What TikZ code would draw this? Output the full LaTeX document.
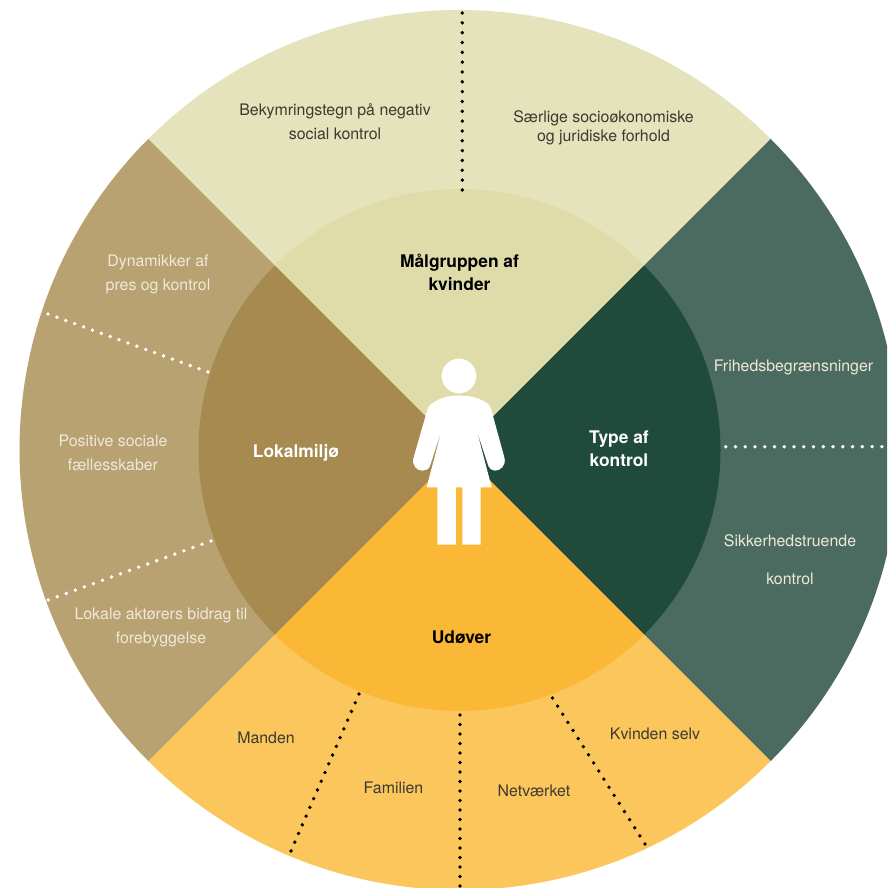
\documentclass[tikz,border=0pt]{standalone}
\usepackage{fontspec}
\setmainfont{TeX Gyre Heros}
\definecolor{topO}{HTML}{E4E3BB}
\definecolor{topI}{HTML}{DFDCAA}
\definecolor{rgtO}{HTML}{4B6B60}
\definecolor{rgtI}{HTML}{1F4A3C}
\definecolor{botO}{HTML}{FBC65C}
\definecolor{botI}{HTML}{FBB836}
\definecolor{lftO}{HTML}{B8A272}
\definecolor{lftI}{HTML}{A68A50}
\definecolor{darktxt}{HTML}{3C3A30}
\definecolor{lighttxt}{HTML}{EFE9DA}
\tikzset{
  x=1pt,y=-1pt,
  lab/.style={font=\fontsize{15.9}{24}\selectfont,align=center,inner sep=0pt},
  darklab/.style={lab,text=darktxt},
  lightlab/.style={lab,text=lighttxt},
  head/.style={font=\fontsize{17.4}{23}\selectfont\bfseries,align=center,inner sep=0pt},
  dotsline/.style={line width=3.8pt,line cap=round,dash pattern=on 0pt off #1pt},
}
\begin{document}
\begin{tikzpicture}
\useasboundingbox (0,0) rectangle (887,888);
\clip (0,0) rectangle (887,888);
\coordinate (ctr) at (459.5,450);
% outer sectors (y axis points down, so angles run clockwise on screen)
\fill[lftO] (ctr) -- +(135:440) arc[start angle=135,end angle=225,radius=440] -- cycle;
\fill[topO] (ctr) -- +(225:440) arc[start angle=225,end angle=315,radius=440] -- cycle;
\fill[rgtO] (ctr) -- +(315:440) arc[start angle=315,end angle=405,radius=440] -- cycle;
\fill[botO] (ctr) -- +(45:440) arc[start angle=45,end angle=135,radius=440] -- cycle;
% inner sectors
\fill[lftI] (ctr) -- +(135:261) arc[start angle=135,end angle=225,radius=261] -- cycle;
\fill[topI] (ctr) -- +(225:261) arc[start angle=225,end angle=315,radius=261] -- cycle;
\fill[rgtI] (ctr) -- +(315:261) arc[start angle=315,end angle=405,radius=261] -- cycle;
\fill[botI] (ctr) -- +(45:261) arc[start angle=45,end angle=135,radius=261] -- cycle;
% dotted dividers
\coordinate (t1) at (462.3,13);   \coordinate (t2) at (462.3,190);
\coordinate (b1) at (460,715);  \coordinate (b2) at (460,890);
\coordinate (m1) at (359,694);  \coordinate (m2) at (291,851);
\coordinate (k1) at (552.5,698);\coordinate (k2) at (645,844);
\coordinate (l1) at (48,314);   \coordinate (l2) at (208,372);
\coordinate (l3) at (211,541);  \coordinate (l4) at (48,600);
\coordinate (r1) at (725.7,446.7);  \coordinate (r2) at (882,446.7);
\draw[dotsline=9.83,black] (t1) -- (t2);
\draw[dotsline=9.5,black] (b1) -- (b2);
\draw[dotsline=9.5,black] (m1) -- (m2);
\draw[dotsline=9.6,black] (k1) -- (k2);
\draw[dotsline=9.45,white] (l1) -- (l2);
\draw[dotsline=9.62,white] (l3) -- (l4);
\draw[dotsline=9.76,white] (r1) -- (r2);
% figure
\begin{scope}[shift={(380,340)},x=0.3333pt,y=-0.3333pt]
\fill[white] (237,108) circle[radius=52*1pt/3];
\fill[white] (150,195) .. controls (180,172) and (205,167) .. (237,167)
  .. controls (270,167) and (300,172) .. (328,195)
  .. controls (331,198) and (332,202) .. (333,206)
  -- (373,352) .. controls (380,378) and (360,392) .. (345,392)
  .. controls (335,392) and (328,386) .. (325,378)
  -- (290,270) -- (335,442) -- (302,442) -- (302,614) -- (247,614) -- (247,442)
  -- (228,442) -- (228,614) -- (172,614) -- (172,442) -- (140,442)
  -- (185,270) -- (150,378)
  .. controls (146,388) and (137,392) .. (127,392)
  .. controls (110,392) and (94,376) .. (101,352)
  -- (143,206) .. controls (144,202) and (146,198) .. (150,195) -- cycle;
\end{scope}
% inner labels
\node[head,text=black] (h1) at (459.5,272.5) {Målgruppen af\\kvinder};
\node[head,text=white] (h2) at (619,449) {Type af\\kontrol};
\node[head,text=black] (h3) at (461.5,637) {Udøver};
\node[head,text=white] (h4) at (296,453) {Lokalmiljø};
% outer labels
\node[darklab] (a1) at (335,122) {Bekymringstegn på negativ\\social kontrol};
\node[darklab,font=\fontsize{15.9}{19.5}\selectfont] (a2) at (603.5,128) {Særlige socioøkonomiske\\og juridiske forhold};
\node[lightlab] (a3) at (793.5,367) {Frihedsbegrænsninger};
\node[lightlab,font=\fontsize{15.9}{38}\selectfont] (a4) at (790,560) {Sikkerhedstruende\\kontrol};
\node[darklab] (a5) at (266,738) {Manden};
\node[darklab] (a6) at (393.5,788) {Familien};
\node[darklab] (a7) at (534,791) {Netværket};
\node[darklab] (a8) at (655,734) {Kvinden selv};
\node[lightlab] (a9) at (158,274) {Dynamikker af\\pres og kontrol};
\node[lightlab] (a10) at (113,452.5) {Positive sociale\\fællesskaber};
\node[lightlab] (a11) at (161,627.5) {Lokale aktørers bidrag til\\forebyggelse};
\end{tikzpicture}
\end{document}
